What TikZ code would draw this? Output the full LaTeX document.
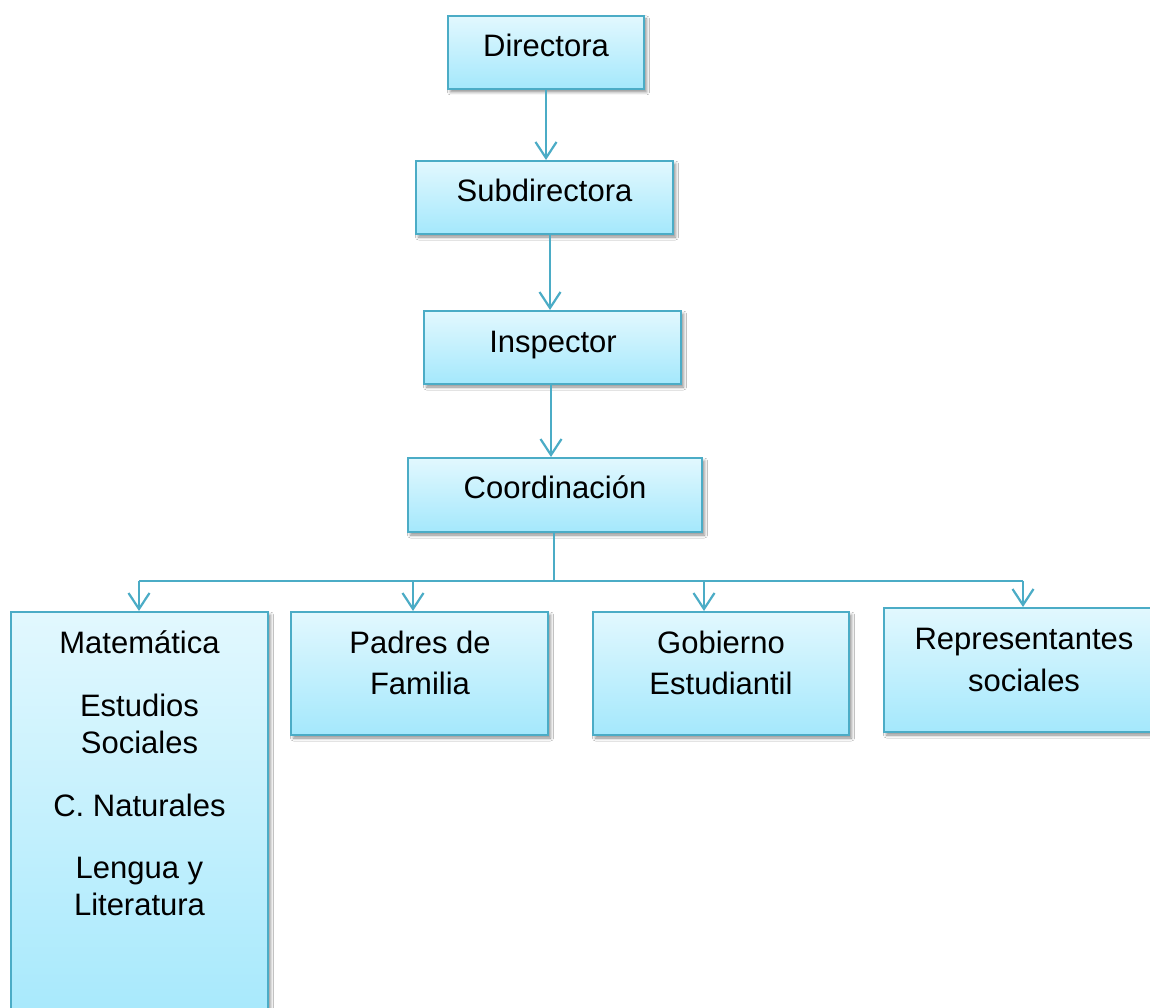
\documentclass[tikz,border=0pt]{standalone}
\usepackage{fontspec}
\setmainfont{Liberation Sans}
\usetikzlibrary{arrows.meta,shadows.blur}
\definecolor{bord}{HTML}{4BACC6}
\definecolor{ftop}{HTML}{E2F8FE}
\definecolor{fbot}{HTML}{A4E8FC}
\tikzset{
  box/.style={draw=bord, line width=2pt, top color=ftop, bottom color=fbot,
    inner sep=0pt, rectangle,
    blur shadow={shadow xshift=2.5pt, shadow yshift=-3pt, shadow blur radius=3pt, shadow opacity=45}},
  txt/.style={anchor=base, inner sep=0pt, font=\fontsize{31}{37}\selectfont},
  arr/.style={draw=bord, line width=2.2pt, -{Straight Barb[length=16pt,width=21pt,line width=2.2pt]}},
  bus/.style={draw=bord, line width=2.2pt}
}
\begin{document}
\begin{tikzpicture}[x=1pt,y=-1pt]
\clip (0,0) rectangle (1150,1008);
\fill[white] (0,0) rectangle (1150,1008);
% boxes
\node[box, minimum width=196pt, minimum height=73pt] (dir) at (546,52.5) {};
\node[box, minimum width=257pt, minimum height=73pt] (sub) at (544.5,197.5) {};
\node[box, minimum width=257pt, minimum height=73pt] (ins) at (552.5,347.5) {};
\node[box, minimum width=294pt, minimum height=74pt] (coo) at (555,495) {};
\node[box, minimum width=257pt, minimum height=428pt] (mat) at (139.5,826) {};
\node[box, minimum width=257pt, minimum height=123pt] (pad) at (419.5,673.5) {};
\node[box, minimum width=256pt, minimum height=123pt] (gob) at (721,673.5) {};
\node[box, minimum width=280pt, minimum height=124pt] (rep) at (1024,670) {};
% texts
\node[txt] (tdir) at (546,57) {Directora};
\node[txt] (tsub) at (544.5,202) {Subdirectora};
\node[txt] (tins) at (553,352) {Inspector};
\node[txt] (tcoo) at (555,498) {Coordinación};
\node[txt] (tmat1) at (139.5,653) {Matemática};
\node[txt] (tmat2) at (139.5,716) {Estudios};
\node[txt] (tmat3) at (139.5,753) {Sociales};
\node[txt] (tmat4) at (139.5,816) {C. Naturales};
\node[txt] (tmat5) at (139.5,878) {Lengua y};
\node[txt] (tmat6) at (139.5,915) {Literatura};
\node[txt] (tpad1) at (420,653) {Padres de};
\node[txt] (tpad2) at (420,694) {Familia};
\node[txt] (tgob1) at (721,653) {Gobierno};
\node[txt] (tgob2) at (721,694) {Estudiantil};
\node[txt] (trep1) at (1024,649) {Representantes};
\node[txt] (trep2) at (1024,691) {sociales};
% connectors
\draw[arr] (dir.south) -- (dir.south |- sub.north);
\draw[arr] ([xshift=5.5pt]sub.south) -- ([xshift=5.5pt]sub.south |- ins.north);
\draw[arr] ([xshift=-1.5pt]ins.south) -- ([xshift=-1.5pt]ins.south |- coo.north);
\coordinate (bL) at (139,581);
\coordinate (bP) at (413,581);
\coordinate (bC) at (554,581);
\coordinate (bG) at (704,581);
\coordinate (bR) at (1023,581);
\draw[bus] ([xshift=-1pt]coo.south) -- (bC);
\draw[bus] (bL) -- (bR);
\draw[arr] (bL) -- (bL |- mat.north);
\draw[arr] (bP) -- (bP |- pad.north);
\draw[arr] (bG) -- (bG |- gob.north);
\draw[arr] (bR) -- (bR |- rep.north);
\end{tikzpicture}
\end{document}
